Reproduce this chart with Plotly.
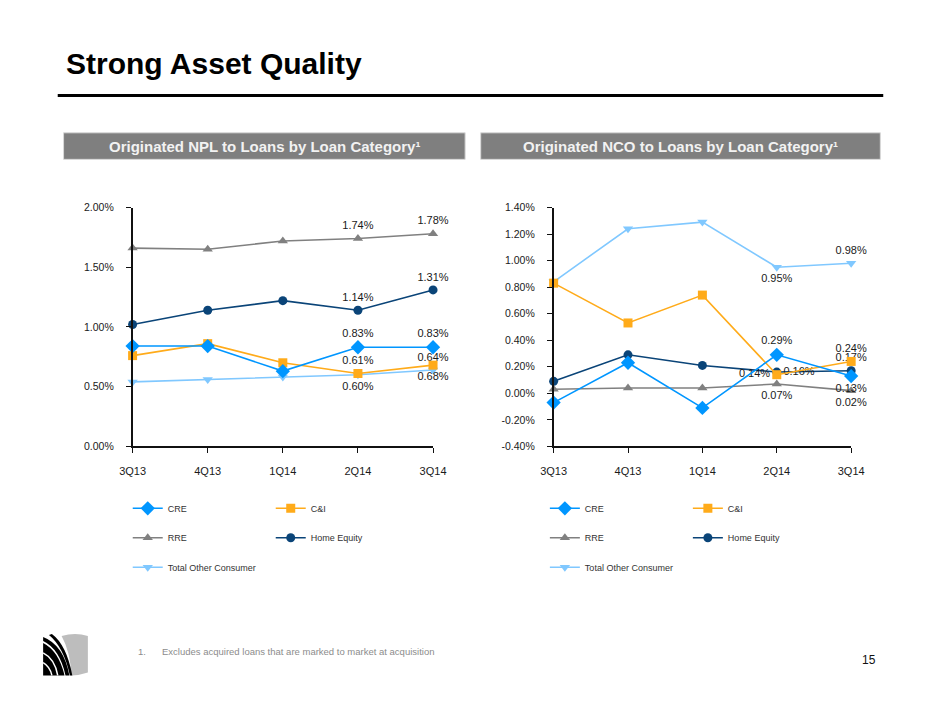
import plotly.graph_objects as go

W, H = 940, 705

quarters = ["3Q13", "4Q13", "1Q14", "2Q14", "3Q14"]
series_names = ["CRE", "C&I", "RRE", "Home Equity", "Total Other Consumer"]

# Originated NPL to Loans (%)
npl_cre = [0.84, 0.84, 0.63, 0.83, 0.83]
npl_ci = [0.76, 0.86, 0.70, 0.61, 0.68]
npl_rre = [1.66, 1.65, 1.72, 1.74, 1.78]
npl_he = [1.02, 1.14, 1.22, 1.14, 1.31]
npl_toc = [0.54, 0.56, 0.58, 0.60, 0.64]

# Originated NCO to Loans (%)
nco_cre = [-0.07, 0.23, -0.11, 0.29, 0.13]
nco_ci = [0.83, 0.53, 0.74, 0.14, 0.24]
nco_rre = [0.03, 0.04, 0.04, 0.07, 0.02]
nco_he = [0.09, 0.29, 0.21, 0.16, 0.17]
nco_toc = [0.84, 1.24, 1.29, 0.95, 0.98]

# Axis ticks
npl_tickvals = [0.0, 0.5, 1.0, 1.5, 2.0]
npl_ticktext = ["0.00%", "0.50%", "1.00%", "1.50%", "2.00%"]
nco_tickvals = [-0.4, -0.2, 0.0, 0.2, 0.4, 0.6, 0.8, 1.0, 1.2, 1.4]
nco_ticktext = ["-0.40%", "-0.20%", "0.00%", "0.20%", "0.40%", "0.60%", "0.80%",
                "1.00%", "1.20%", "1.40%"]

labeled_points = [3, 4]  # data labels shown for 2Q14 and 3Q14

colors = {
    "CRE": "#0096FF",
    "C&I": "#FFAB1A",
    "RRE": "#808080",
    "Home Equity": "#0A4478",
    "Total Other Consumer": "#80C8FF",
}
symbols = {
    "CRE": ("diamond", 11),
    "C&I": ("square", 9),
    "RRE": ("triangle-up", 9),
    "Home Equity": ("circle", 9),
    "Total Other Consumer": ("triangle-down", 9),
}

npl = {"CRE": npl_cre, "C&I": npl_ci, "RRE": npl_rre, "Home Equity": npl_he,
       "Total Other Consumer": npl_toc}
nco = {"CRE": nco_cre, "C&I": nco_ci, "RRE": nco_rre, "Home Equity": nco_he,
       "Total Other Consumer": nco_toc}

npl_pos = {
    "CRE": ["top center", "top center"],
    "C&I": ["top center", "bottom center"],
    "RRE": ["top center", "top center"],
    "Home Equity": ["top center", "top center"],
    "Total Other Consumer": ["bottom center", "top center"],
}
nco_pos = {
    "CRE": ["top center", "bottom center"],
    "C&I": ["middle left", "top center"],
    "RRE": ["bottom center", "bottom center"],
    "Home Equity": ["middle right", "top center"],
    "Total Other Consumer": ["bottom center", "top center"],
}

legend_row = {"CRE": 0, "C&I": 0, "RRE": 1, "Home Equity": 1, "Total Other Consumer": 2}

FONT = "Liberation Sans, Arial, sans-serif"


def px(x):
    return x / W


def py(y):
    return 1 - y / H


fig = go.Figure()

draw_order = ["RRE", "Home Equity", "Total Other Consumer", "C&I", "CRE"]
for side, data, pos, xa, ya, legoff in [
    ("left", npl, npl_pos, "x", "y", 0),
    ("right", nco, nco_pos, "x2", "y2", 3),
]:
    for name in draw_order:
        vals = data[name]
        texts = []
        tpos = []
        for i, v in enumerate(vals):
            if i in labeled_points:
                texts.append(f"{v:.2f}%")
                tpos.append(pos[name][labeled_points.index(i)])
            else:
                texts.append("")
                tpos.append("top center")
        lg = legoff + legend_row[name] + 1
        fig.add_trace(go.Scatter(
            x=quarters, y=vals, name=name, mode="lines+markers+text",
            text=texts, textposition=tpos,
            textfont=dict(family=FONT, size=11, color="#1a1a1a"),
            line=dict(color=colors[name], width=1.6),
            marker=dict(symbol=symbols[name][0], size=symbols[name][1], color=colors[name]),
            xaxis=xa, yaxis=ya, cliponaxis=False,
            legend="legend" if lg == 1 else f"legend{lg}",
            legendrank=series_names.index(name) + 1,
            hoverinfo="x+y+name",
        ))

axis_common = dict(showgrid=False, zeroline=False, showline=True, linecolor="#111111",
                   linewidth=1.5, ticks="outside", ticklen=5, tickcolor="#111111",
                   tickwidth=1.2)
xfont = dict(family=FONT, size=11, color="#1a1a1a")
yfont = dict(family=FONT, size=10.5, color="#1a1a1a")

ydom = [py(448), py(205)]
fig.update_layout(
    width=W, height=H,
    margin=dict(l=0, r=0, t=0, b=0),
    paper_bgcolor="white", plot_bgcolor="white",
    xaxis=dict(domain=[px(123), px(432)], range=[0, 4], anchor="y",
               ticklabelstandoff=9, tickfont=xfont, **axis_common),
    yaxis=dict(domain=ydom, range=[0, 2.0], tickmode="array", tickvals=npl_tickvals,
               ticktext=npl_ticktext, anchor="x", ticklabelstandoff=10, tickfont=yfont,
               **axis_common),
    xaxis2=dict(domain=[px(556), px(862)], range=[0, 4], anchor="y2",
                ticklabelstandoff=9, tickfont=xfont, **axis_common),
    yaxis2=dict(domain=ydom, range=[-0.4, 1.4], tickmode="array", tickvals=nco_tickvals,
                ticktext=nco_ticktext, anchor="x2", ticklabelstandoff=10, tickfont=yfont,
                **axis_common),
    showlegend=True,
)

# Legends: three rows under each chart
row_y = [511, 541, 571]
leg_font = dict(family=FONT, size=9, color="#333333")
for k, (lx, ry) in enumerate([(118, row_y[0]), (118, row_y[1]), (118, row_y[2]),
                              (547, row_y[0]), (547, row_y[1]), (547, row_y[2])]):
    key = "legend" if k == 0 else f"legend{k + 1}"
    fig.update_layout(**{key: dict(
        x=px(lx), y=py(ry), xanchor="left", yanchor="middle",
        orientation="h", entrywidth=98, entrywidthmode="pixels",
        font=leg_font, bgcolor="rgba(0,0,0,0)", borderwidth=0,
        tracegroupgap=0, itemclick=False, itemdoubleclick=False,
    )})

shapes = []
annotations = []

# Title and rule
annotations.append(dict(
    text="<b>Strong Asset Quality</b>", x=px(52), y=py(58), xref="paper", yref="paper",
    xanchor="left", yanchor="middle", showarrow=False,
    font=dict(family=FONT, size=30, color="#000000")))
shapes.append(dict(type="line", xref="paper", yref="paper",
                   x0=px(46), x1=px(895), y0=py(91), y1=py(91),
                   line=dict(color="#000000", width=3)))

# Section header bars
for x0, x1, label in [(52, 465, "Originated NPL to Loans by Loan Category¹"),
                      (481, 892, "Originated NCO to Loans by Loan Category¹")]:
    shapes.append(dict(type="rect", xref="paper", yref="paper",
                       x0=px(x0), x1=px(x1), y0=py(156), y1=py(129),
                       fillcolor="#7f7f7f", line=dict(color="#d9d9d9", width=1)))
    annotations.append(dict(
        text=f"<b>{label}</b>", x=px((x0 + x1) / 2), y=py(142.5), xref="paper",
        yref="paper", xanchor="center", yanchor="middle", showarrow=False,
        font=dict(family=FONT, size=15, color="#f2f2f2")))

# Footnote and page number
annotations.append(dict(
    text="1.", x=px(127), y=py(657), xref="paper", yref="paper", xanchor="left",
    yanchor="middle", showarrow=False,
    font=dict(family=FONT, size=9.5, color="#8c8c8c")))
annotations.append(dict(
    text="Excludes acquired loans that are marked to market at acquisition",
    x=px(151), y=py(657), xref="paper", yref="paper", xanchor="left",
    yanchor="middle", showarrow=False,
    font=dict(family=FONT, size=9.5, color="#8c8c8c")))
annotations.append(dict(
    text="15", x=px(880), y=py(665), xref="paper", yref="paper", xanchor="center",
    yanchor="middle", showarrow=False,
    font=dict(family=FONT, size=12, color="#111111")))


# Logo (decorative)
def path(pts_cmds):
    out = []
    for c in pts_cmds:
        if isinstance(c, str):
            out.append(c)
        else:
            out.append(f"{px(c[0]):.5f},{py(c[1]):.5f}")
    return " ".join(out)


shapes.append(dict(type="path", xref="paper", yref="paper",
                   path=path(["M", (50, 641), "Q", (64, 637), (77, 641), "L", (77, 678),
                              "Q", (68, 681), (60, 681), "Q", (59, 657), (50, 641), "Z"]),
                   fillcolor="#bdbdbd", line=dict(width=0)))
shapes.append(dict(type="path", xref="paper", yref="paper",
                   path=path(["M", (31, 648), "Q", (47, 656), (53, 681), "L", (31, 681),
                              "Z"]),
                   fillcolor="#000000", line=dict(width=0)))
shapes.append(dict(type="path", xref="paper", yref="paper",
                   path=path(["M", (31, 642), "Q", (52, 650), (58, 681), "L", (54, 681),
                              "Q", (48, 654), (31, 646), "Z"]),
                   fillcolor="#000000", line=dict(width=0)))
shapes.append(dict(type="path", xref="paper", yref="paper",
                   path=path(["M", (40, 639), "Q", (55, 650), (61, 681), "L", (58.5, 681),
                              "Q", (52, 652), (37, 640), "Z"]),
                   fillcolor="#000000", line=dict(width=0)))
for (a, b, c) in [((31, 658), (43, 664), (46, 681)), ((31, 668), (38, 672), (40, 681))]:
    shapes.append(dict(type="path", xref="paper", yref="paper",
                       path=path(["M", a, "Q", b, c]),
                       line=dict(color="#ffffff", width=1.5)))

fig.update_layout(shapes=shapes, annotations=annotations)

fig.write_html("out.html",
               config={"displayModeBar": False},
               post_script="document.body.style.margin='0';document.body.style.overflow='hidden';")
